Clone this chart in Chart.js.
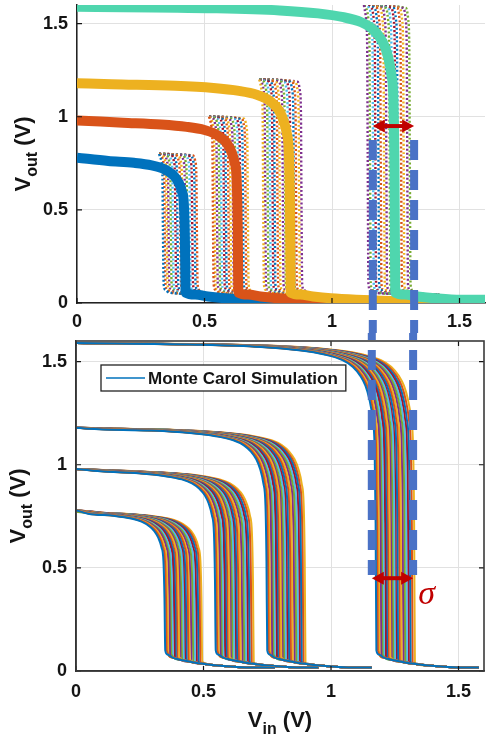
<!DOCTYPE html>
<html>
<head>
<meta charset="utf-8">
<script src="https://cdn.jsdelivr.net/npm/chart.js@4.4.1/dist/chart.umd.min.js"></script>
<style>
  html, body { margin: 0; padding: 0; background: #fff; }
  #wrap { position: relative; width: 491px; height: 741px; }
  .pane { position: absolute; left: 0; width: 491px; }
  #paneTop { top: 0; height: 333px; }
  #paneBottom { top: 333px; height: 408px; }
</style>
</head>
<body>
<div id="wrap">
  <div class="pane" id="paneTop"><canvas id="vtcTop"></canvas></div>
  <div class="pane" id="paneBottom"><canvas id="vtcBottom"></canvas></div>
</div>
<script>
'use strict';

// ---- values (volts) ----
const VDD            = [0.78, 0.98, 1.18, 1.59];
const NOMINAL_SWITCH = [0.423, 0.63, 0.835, 1.245];
const NOMINAL_END    = [0.8, 1.0, 1.6, 1.6];
const NOMINAL_COLORS = ['#0072BD', '#D95319', '#EDB120', '#4FD6AE'];

// top panel: dotted Monte Carlo runs
const TOP_MC_08 = [0.337, 0.344, 0.352, 0.359, 0.368, 0.376, 0.386, 0.394, 0.405, 0.413, 0.424, 0.432, 0.443, 0.452, 0.462, 0.47];
const TOP_MC_10 = [0.533, 0.540, 0.549, 0.558, 0.566, 0.576, 0.584, 0.594, 0.602, 0.612, 0.621, 0.632, 0.640, 0.651, 0.661, 0.67];
const TOP_MC_12 = [0.730, 0.738, 0.748, 0.757, 0.767, 0.775, 0.786, 0.795, 0.807, 0.816, 0.828, 0.837, 0.850, 0.859, 0.871, 0.88];
const TOP_MC_16 = [1.140, 1.149, 1.161, 1.170, 1.182, 1.191, 1.204, 1.213, 1.226, 1.235, 1.248, 1.257, 1.271, 1.281, 1.295, 1.305];
const DOT_TOP   = [0.80, 1.00, 1.20, 1.60];
const DOT_START = [0.322, 0.518, 0.715, 1.125];
const DOT_END   = [0.55, 0.73, 0.93, 1.42];

// bottom panel: solid Monte Carlo runs
const MC_08 = [0.347, 0.353, 0.359, 0.366, 0.371, 0.377, 0.384, 0.389, 0.395, 0.402, 0.407, 0.413, 0.42, 0.425, 0.431, 0.438, 0.443, 0.45, 0.457, 0.464, 0.471, 0.478, 0.485, 0.492];
const MC_10 = [0.545, 0.551, 0.557, 0.564, 0.569, 0.575, 0.582, 0.587, 0.593, 0.6, 0.605, 0.611, 0.618, 0.623, 0.629, 0.636, 0.643, 0.65, 0.657, 0.664, 0.671, 0.678, 0.686, 0.694];
const MC_12 = [0.747, 0.753, 0.759, 0.766, 0.771, 0.777, 0.784, 0.789, 0.795, 0.802, 0.807, 0.813, 0.82, 0.826, 0.833, 0.84, 0.847, 0.854, 0.861, 0.868, 0.875, 0.882, 0.889, 0.897];
const MC_16 = [1.175, 1.181, 1.187, 1.194, 1.199, 1.205, 1.212, 1.217, 1.223, 1.23, 1.235, 1.241, 1.248, 1.253, 1.26, 1.267, 1.274, 1.281, 1.288, 1.295, 1.302, 1.309, 1.317, 1.326];
const MC_END = [0.78, 0.95, 1.16, 1.58];

// transfer-curve shape: knee (offset from switching point, fraction of Vdd) and low tail (V)
const KNEE_DX = [-0.7, -0.45, -0.3, -0.2, -0.13, -0.09, -0.06, -0.04, -0.025, -0.012, -0.004, 0];
const KNEE_FR = [0.995, 0.988, 0.978, 0.965, 0.948, 0.928, 0.9, 0.87, 0.83, 0.77, 0.68, 0.45];
const TAIL_DX = [0, 0.012, 0.03, 0.06, 0.1, 0.15, 0.22, 0.32, 0.45, 0.7];
const TAIL_V  = [0.1, 0.08, 0.066, 0.055, 0.045, 0.035, 0.025, 0.017, 0.011, 0.006];
const DOT_KNEE_DX = [-0.015, -0.006, -0.002, 0];
const DOT_KNEE_FR = [0.99, 0.95, 0.86, 0.5];
const DOT_TAIL_DX = [0.003, 0.01, 0.025];
const DOT_TAIL_V  = [0.1, 0.07, 0.055];
const DOT_FLOOR = 0.045;

// sigma window
const SIGMA_X = [1.16, 1.322];
const DASH_FROM_TOP = 0.875;
const DASH_TO_BOTTOM = 0.465;
const ARROW_Y_TOP = 0.95;
const ARROW_Y_BOTTOM = 0.45;
const SIGMA_LABEL = { x: 1.375, y: 0.37, text: 'σ' };

const X_TICKS = [0, 0.5, 1, 1.5];
const Y_TICKS = [0, 0.5, 1, 1.5];
const AXIS_MAX = 1.6;

const PALETTE = ['#0072BD', '#D95319', '#EDB120', '#7E2F8E', '#77AC30', '#4DBEEE', '#A2142F'];
const FAMILY = 'Liberation Sans, Arial, sans-serif';
const INK = '#141414';
const GRID = '#e1e1e1';

// ---- curve builders ----
function vtc(vdd, xs, tail0, end) {
  const pts = [{ x: 0, y: vdd }];
  KNEE_DX.forEach((d, i) => { if (xs + d > 0.001) pts.push({ x: xs + d, y: vdd * KNEE_FR[i] }); });
  const hook = TAIL_DX.reduce((v, d, i) => (tail0 + d <= xs + 0.003 ? TAIL_V[i] : v), TAIL_V[0]);
  pts.push({ x: xs + 0.003, y: hook });
  let last = hook;
  TAIL_DX.forEach((d, i) => {
    const x = tail0 + d;
    if (x > xs + 0.006 && x < end) { pts.push({ x, y: TAIL_V[i] }); last = TAIL_V[i]; }
  });
  pts.push({ x: end, y: last });
  return pts;
}

function dotted(top, xs, start, end) {
  const pts = [{ x: start, y: top }];
  DOT_KNEE_DX.forEach((d, i) => { if (xs + d > start + 0.001) pts.push({ x: xs + d, y: top * DOT_KNEE_FR[i] }); });
  DOT_TAIL_DX.forEach((d, i) => pts.push({ x: xs + d, y: DOT_TAIL_V[i] }));
  pts.push({ x: end, y: DOT_FLOOR });
  return pts;
}

const TOP_MC = [TOP_MC_08, TOP_MC_10, TOP_MC_12, TOP_MC_16];
const MC = [MC_08, MC_10, MC_12, MC_16];

const topSets = [];
TOP_MC.forEach((list, f) => list.forEach((xs, k) => topSets.push({
  data: dotted(DOT_TOP[f], xs, DOT_START[f], DOT_END[f]),
  borderColor: PALETTE[(k + f) % PALETTE.length],
  borderWidth: 2.4, borderDash: [2, 2.2], order: 10
})));
NOMINAL_SWITCH.forEach((xs, f) => topSets.push({
  data: vtc(VDD[f], xs, xs - 0.06, NOMINAL_END[f]),
  borderColor: NOMINAL_COLORS[f],
  borderWidth: 10, borderJoinStyle: 'round', order: 4 - f
}));

const bottomSets = [];
MC.forEach((list, f) => list.forEach((xs, k) => bottomSets.push({
  data: vtc(VDD[f], xs, list[0], MC_END[f]),
  borderColor: PALETTE[k % PALETTE.length],
  borderWidth: 2
})));

// ---- plugins ----
let dashCarry = 0;

const innerTicks = {
  id: 'innerTicks',
  afterDatasetsDraw(chart, args, opts) {
    const { ctx, chartArea: a } = chart;
    const sx = chart.scales.x, sy = chart.scales.y;
    const len = 5;
    ctx.save();
    ctx.strokeStyle = INK; ctx.lineWidth = 1.2;
    ctx.beginPath();
    X_TICKS.forEach(v => {
      const px = sx.getPixelForValue(v);
      if (opts.sides.includes('bottom')) { ctx.moveTo(px, a.bottom); ctx.lineTo(px, a.bottom - len); }
      if (opts.sides.includes('top')) { ctx.moveTo(px, a.top); ctx.lineTo(px, a.top + len); }
    });
    Y_TICKS.forEach(v => {
      const py = sy.getPixelForValue(v);
      if (opts.sides.includes('left')) { ctx.moveTo(a.left, py); ctx.lineTo(a.left + len, py); }
      if (opts.sides.includes('right')) { ctx.moveTo(a.right, py); ctx.lineTo(a.right - len, py); }
    });
    ctx.stroke();
    if (opts.box) {
      ctx.strokeStyle = '#3a3a3a'; ctx.lineWidth = 1.6;
      ctx.strokeRect(a.left, a.top, a.right - a.left, a.bottom - a.top);
    }
    ctx.restore();
  }
};

const sigmaWindow = {
  id: 'sigmaWindow',
  afterDatasetsDraw(chart, args, opts) {
    const { ctx } = chart;
    const sx = chart.scales.x, sy = chart.scales.y;
    const yA = opts.dashFrom == null ? 0 : sy.getPixelForValue(opts.dashFrom);
    const yB = opts.dashTo == null ? chart.height : sy.getPixelForValue(opts.dashTo);
    if (opts.dashFrom != null) dashCarry = chart.height - yA;
    ctx.save();
    ctx.strokeStyle = '#4A72C6'; ctx.lineWidth = 8;
    ctx.setLineDash([20, 10]);
    ctx.lineDashOffset = opts.dashFrom == null ? dashCarry : 0;
    SIGMA_X.forEach(v => {
      const px = sx.getPixelForValue(v);
      ctx.beginPath(); ctx.moveTo(px, yA); ctx.lineTo(px, yB); ctx.stroke();
    });
    // double arrow
    const ay = sy.getPixelForValue(opts.arrowY);
    const x1 = sx.getPixelForValue(SIGMA_X[0]), x2 = sx.getPixelForValue(SIGMA_X[1]);
    ctx.setLineDash([]);
    ctx.strokeStyle = ctx.fillStyle = '#C00000';
    ctx.lineWidth = 4;
    ctx.beginPath(); ctx.moveTo(x1 + 8, ay); ctx.lineTo(x2 - 8, ay); ctx.stroke();
    ctx.beginPath(); ctx.moveTo(x1, ay); ctx.lineTo(x1 + 12, ay - 6.5); ctx.lineTo(x1 + 12, ay + 6.5); ctx.closePath(); ctx.fill();
    ctx.beginPath(); ctx.moveTo(x2, ay); ctx.lineTo(x2 - 12, ay - 6.5); ctx.lineTo(x2 - 12, ay + 6.5); ctx.closePath(); ctx.fill();
    if (opts.sigma) {
      ctx.font = 'italic 34px "Liberation Serif", serif';
      ctx.textAlign = 'center'; ctx.textBaseline = 'middle';
      ctx.fillText(SIGMA_LABEL.text, sx.getPixelForValue(SIGMA_LABEL.x), sy.getPixelForValue(SIGMA_LABEL.y));
    }
    ctx.restore();
  }
};

const mcLegend = {
  id: 'mcLegend',
  afterDatasetsDraw(chart, args, opts) {
    if (!opts.text) return;
    const { ctx, chartArea: a } = chart;
    const left = a.left + 25, top = a.top + 24, h = 26;
    ctx.save();
    ctx.font = 'bold 17px ' + FAMILY;
    const w = 47 + ctx.measureText(opts.text).width + 8;
    ctx.fillStyle = '#fff'; ctx.fillRect(left, top, w, h);
    ctx.strokeStyle = '#222'; ctx.lineWidth = 1.3; ctx.strokeRect(left, top, w, h);
    ctx.strokeStyle = PALETTE[0]; ctx.lineWidth = 1.6;
    ctx.beginPath(); ctx.moveTo(left + 5, top + h / 2); ctx.lineTo(left + 44, top + h / 2); ctx.stroke();
    ctx.fillStyle = INK; ctx.textBaseline = 'middle'; ctx.textAlign = 'left';
    ctx.fillText(opts.text, left + 47, top + h / 2 + 1);
    ctx.restore();
  }
};

// axis titles with subscripts: V_out (V), V_in (V)
function subText(ctx, x, y, rotate, main, sub, rest, size) {
  ctx.save();
  ctx.translate(x, y);
  if (rotate) ctx.rotate(-Math.PI / 2);
  const big = 'bold ' + size + 'px ' + FAMILY, small = 'bold ' + Math.round(size * 0.72) + 'px ' + FAMILY;
  ctx.font = big; const w1 = ctx.measureText(main).width, w3 = ctx.measureText(rest).width;
  ctx.font = small; const w2 = ctx.measureText(sub).width;
  let cx = -(w1 + w2 + w3) / 2;
  ctx.fillStyle = INK; ctx.textBaseline = 'alphabetic'; ctx.textAlign = 'left';
  ctx.font = big; ctx.fillText(main, cx, 0); cx += w1;
  ctx.font = small; ctx.fillText(sub, cx, size * 0.3); cx += w2;
  ctx.font = big; ctx.fillText(rest, cx, 0);
  ctx.restore();
}

const axisTitles = {
  id: 'axisTitles',
  afterDraw(chart, args, opts) {
    const { ctx, chartArea: a } = chart;
    if (opts.yAt != null) subText(ctx, opts.yAt, (a.top + a.bottom) / 2, true, 'V', 'out', ' (V)', 22);
    if (opts.xAt != null) subText(ctx, (a.left + a.right) / 2, opts.xAt, false, 'V', 'in', ' (V)', 22);
  }
};

// ---- chart factory ----
function panel(id, datasets, cfg) {
  const tickFont = { family: FAMILY, size: 18, weight: 'bold' };
  const border = { display: true, color: '#222', width: 1.5 };
  return new Chart(document.getElementById(id), {
    type: 'line',
    data: { datasets },
    options: {
      responsive: true,
      maintainAspectRatio: false,
      animation: false,
      events: [],
      layout: { padding: cfg.padding },
      elements: { point: { radius: 0 }, line: { cubicInterpolationMode: 'monotone', fill: false } },
      plugins: {
        legend: { display: false },
        tooltip: { enabled: false },
        innerTicks: { sides: cfg.sides, box: cfg.box },
        sigmaWindow: cfg.sigma,
        mcLegend: { text: cfg.legendText },
        axisTitles: cfg.titles
      },
      scales: {
        x: {
          type: 'linear', min: 0, max: AXIS_MAX,
          afterBuildTicks: s => { s.ticks = X_TICKS.map(value => ({ value })); },
          afterFit: s => { s.height = cfg.xHeight; s.paddingLeft = 0; s.paddingRight = 0; },
          grid: { color: GRID, drawTicks: false },
          border,
          ticks: { font: tickFont, color: INK, padding: cfg.xPad, maxRotation: 0, autoSkip: false, callback: v => String(v) }
        },
        y: {
          type: 'linear', min: 0, max: AXIS_MAX,
          afterBuildTicks: s => { s.ticks = Y_TICKS.map(value => ({ value })); },
          afterFit: s => { s.width = cfg.yWidth; s.paddingTop = 0; s.paddingBottom = 0; },
          grid: { color: GRID, drawTicks: false },
          border,
          ticks: { font: tickFont, color: INK, padding: 9, autoSkip: false, callback: v => String(v) }
        }
      }
    },
    plugins: [innerTicks, sigmaWindow, mcLegend, axisTitles]
  });
}

panel('vtcTop', topSets, {
  padding: { left: 0, right: 6, top: 5, bottom: 0 },
  yWidth: 77, xHeight: 30, xPad: 8,
  sides: ['left', 'bottom'], box: false,
  sigma: { dashFrom: DASH_FROM_TOP, dashTo: null, arrowY: ARROW_Y_TOP, sigma: false },
  legendText: null,
  titles: { yAt: 30 }
});

panel('vtcBottom', bottomSets, {
  padding: { left: 0, right: 7, top: 8, bottom: 0 },
  yWidth: 76, xHeight: 70, xPad: 10,
  sides: ['left', 'bottom', 'top', 'right'], box: true,
  sigma: { dashFrom: null, dashTo: DASH_TO_BOTTOM, arrowY: ARROW_Y_BOTTOM, sigma: true },
  legendText: 'Monte Carol Simulation',
  titles: { yAt: 25, xAt: 394 }
});
</script>
</body>
</html>
